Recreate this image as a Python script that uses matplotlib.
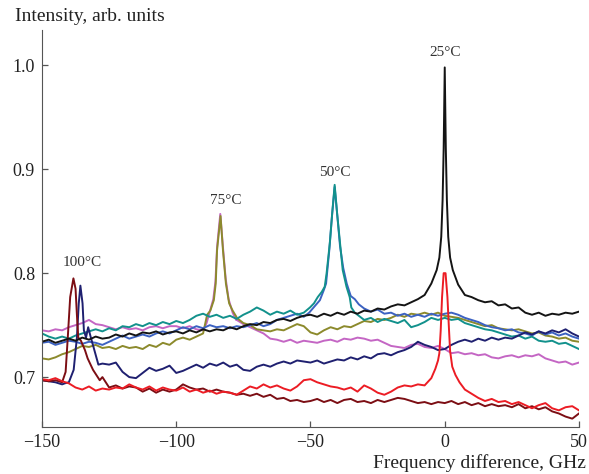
import numpy as np
import matplotlib.pyplot as plt

# frequency grid for the baselines, GHz (step 2.5)
freq = np.arange(-150, 50.1, 2.5)

# 25 C pair: black and red
black_base = [0.734, 0.736, 0.733, 0.735, 0.737, 0.735, 0.738, 0.736, 0.739, 0.737,
              0.738, 0.741, 0.739, 0.742, 0.740, 0.743, 0.742, 0.744, 0.741, 0.743,
              0.744, 0.742, 0.745, 0.743, 0.746, 0.744, 0.746, 0.745, 0.748, 0.746,
              0.749, 0.751, 0.750, 0.753, 0.752, 0.755, 0.756, 0.754, 0.757, 0.759,
              0.760, 0.758, 0.761, 0.759, 0.762, 0.760, 0.763, 0.761, 0.764, 0.763,
              0.766, 0.765, 0.768, 0.770, 0.769, 0.772, 0.775, 0.779, 0.785, 0.800,
              0.998, 0.800, 0.787, 0.779, 0.777, 0.774, 0.772, 0.773, 0.769, 0.770,
              0.766, 0.767, 0.762, 0.760, 0.762, 0.759, 0.761, 0.760, 0.762, 0.761,
              0.763]
black_peak_x = [-5, -3, -2, -1.3, -0.8, -0.4, 0, 0.4, 0.8, 1.3, 2, 3, 5]
black_peak_y = [0.790, 0.803, 0.815, 0.835, 0.870, 0.920, 0.998, 0.920, 0.870, 0.835, 0.815, 0.803, 0.789]

red_base = [0.698, 0.697, 0.699, 0.696, 0.694, 0.690, 0.688, 0.691, 0.687, 0.689,
            0.688, 0.690, 0.689, 0.693, 0.690, 0.688, 0.691, 0.687, 0.690, 0.688,
            0.687, 0.690, 0.686, 0.688, 0.685, 0.687, 0.684, 0.686, 0.685, 0.683,
            0.687, 0.691, 0.689, 0.693, 0.690, 0.692, 0.689, 0.687, 0.691, 0.697,
            0.698, 0.695, 0.693, 0.691, 0.690, 0.688, 0.690, 0.686, 0.692, 0.689,
            0.685, 0.683, 0.686, 0.690, 0.692, 0.691, 0.693, 0.692, 0.699, 0.715,
            0.800, 0.720, 0.698, 0.688, 0.684, 0.680, 0.677, 0.679, 0.676, 0.677,
            0.674, 0.676, 0.673, 0.670, 0.673, 0.675, 0.670, 0.668, 0.671, 0.672,
            0.668]
red_peak_x = [-5, -3.5, -2.5, -2, -1.5, -1, -0.4, 0.3, 1, 1.6, 2, 2.8, 4, 5.5]
red_peak_y = [0.699, 0.708, 0.716, 0.723, 0.745, 0.777, 0.800, 0.800, 0.777, 0.745, 0.725, 0.710, 0.702, 0.695]

# 50 C pair: teal and blue
teal_base = [0.742, 0.739, 0.737, 0.739, 0.737, 0.740, 0.742, 0.744, 0.746, 0.744,
             0.747, 0.745, 0.749, 0.748, 0.751, 0.749, 0.752, 0.750, 0.753, 0.751,
             0.754, 0.752, 0.755, 0.759, 0.761, 0.758, 0.760, 0.757, 0.759, 0.756,
             0.760, 0.763, 0.767, 0.764, 0.760, 0.763, 0.761, 0.764, 0.760, 0.762,
             0.767, 0.772, 0.782, 0.830, 0.800, 0.775, 0.762, 0.760, 0.755, 0.757,
             0.753, 0.756, 0.754, 0.752, 0.755, 0.748, 0.750, 0.753, 0.757, 0.755,
             0.757, 0.755, 0.756, 0.752, 0.750, 0.748, 0.746, 0.745, 0.743, 0.741,
             0.739, 0.740, 0.737, 0.739, 0.735, 0.734, 0.735, 0.732, 0.733, 0.730,
             0.727]
teal_peak_x = [-50.2, -48.7, -47.3, -45.8, -44.7, -44, -42.8, -41.9, -41, -40.1, -39, -38, -36.6, -35.4, -34.8, -33.5]
teal_peak_y = [0.767, 0.771, 0.777, 0.782, 0.787, 0.800, 0.829, 0.858, 0.885, 0.858, 0.829, 0.803, 0.787, 0.777, 0.767, 0.762]

blue_base = [0.733, 0.734, 0.731, 0.733, 0.735, 0.734, 0.732, 0.734, 0.733, 0.731,
             0.734, 0.737, 0.740, 0.737, 0.739, 0.741, 0.739, 0.742, 0.744, 0.742,
             0.745, 0.748, 0.746, 0.749, 0.747, 0.750, 0.748, 0.749, 0.747, 0.749,
             0.748, 0.750, 0.752, 0.749, 0.751, 0.755, 0.757, 0.759, 0.761, 0.758,
             0.762, 0.770, 0.784, 0.840, 0.820, 0.785, 0.775, 0.770, 0.766, 0.763,
             0.765, 0.761, 0.762, 0.759, 0.761, 0.758, 0.760, 0.758, 0.761, 0.759,
             0.761, 0.762, 0.760, 0.757, 0.755, 0.753, 0.750, 0.748, 0.747, 0.745,
             0.746, 0.743, 0.742, 0.740, 0.744, 0.741, 0.743, 0.740, 0.742, 0.739,
             0.737]
blue_peak_x = [-50.5, -48.5, -46.5, -45, -44.2, -43, -42, -41, -40, -39, -37.8, -36.5, -35, -33.5, -32]
blue_peak_y = [0.762, 0.768, 0.774, 0.784, 0.790, 0.822, 0.855, 0.883, 0.855, 0.826, 0.805, 0.790, 0.778, 0.775, 0.770]

# 75 C pair: olive and magenta
olive_base = [0.718, 0.717, 0.719, 0.722, 0.724, 0.727, 0.730, 0.729, 0.731, 0.728,
              0.729, 0.727, 0.730, 0.728, 0.729, 0.727, 0.731, 0.729, 0.733, 0.731,
              0.736, 0.738, 0.736, 0.739, 0.742, 0.770, 0.840, 0.800, 0.765, 0.757,
              0.752, 0.750, 0.746, 0.745, 0.744, 0.746, 0.745, 0.748, 0.751, 0.749,
              0.743, 0.741, 0.745, 0.748, 0.746, 0.749, 0.748, 0.751, 0.754, 0.753,
              0.756, 0.755, 0.757, 0.760, 0.758, 0.761, 0.760, 0.762, 0.760, 0.762,
              0.759, 0.758, 0.757, 0.755, 0.753, 0.751, 0.749, 0.750, 0.747, 0.746,
              0.745, 0.746, 0.744, 0.742, 0.743, 0.740, 0.739, 0.737, 0.738, 0.735,
              0.734]
olive_peak_x = [-88.5, -87.3, -86, -85.3, -84.8, -83.5, -82.6, -81.5, -80.3, -79, -77.6]
olive_peak_y = [0.760, 0.764, 0.774, 0.790, 0.822, 0.855, 0.822, 0.790, 0.771, 0.764, 0.758]

magenta_base = [0.745, 0.744, 0.746, 0.745, 0.748, 0.750, 0.752, 0.755, 0.751, 0.750,
                0.748, 0.746, 0.748, 0.746, 0.747, 0.745, 0.748, 0.749, 0.747, 0.749,
                0.749, 0.747, 0.749, 0.746, 0.745, 0.765, 0.840, 0.800, 0.762, 0.755,
                0.751, 0.748, 0.745, 0.742, 0.737, 0.736, 0.734, 0.736, 0.733, 0.735,
                0.734, 0.733, 0.735, 0.736, 0.734, 0.737, 0.736, 0.738, 0.737, 0.735,
                0.736, 0.733, 0.730, 0.729, 0.728, 0.731, 0.732, 0.729, 0.728, 0.730,
                0.727, 0.723, 0.724, 0.722, 0.723, 0.721, 0.722, 0.719, 0.718, 0.720,
                0.721, 0.719, 0.721, 0.720, 0.722, 0.718, 0.716, 0.714, 0.715, 0.712,
                0.714]
magenta_peak_x = [-88.7, -87.5, -86.2, -85.4, -84.8, -83.6, -82.6, -81.6, -80.5, -79, -77.7]
magenta_peak_y = [0.752, 0.763, 0.775, 0.792, 0.825, 0.857, 0.825, 0.795, 0.775, 0.762, 0.755]

# 100 C pair: maroon and navy
maroon_base = [0.697, 0.696, 0.697, 0.695, 0.720, 0.790, 0.730, 0.715, 0.705, 0.700,
               0.690, 0.692, 0.689, 0.691, 0.690, 0.686, 0.689, 0.685, 0.688, 0.686,
               0.688, 0.693, 0.690, 0.688, 0.689, 0.686, 0.688, 0.686, 0.685, 0.683,
               0.684, 0.682, 0.684, 0.681, 0.683, 0.679, 0.680, 0.677, 0.678, 0.676,
               0.677, 0.679, 0.676, 0.678, 0.675, 0.678, 0.679, 0.676, 0.677, 0.675,
               0.678, 0.676, 0.678, 0.680, 0.679, 0.677, 0.675, 0.676, 0.674, 0.676,
               0.675, 0.677, 0.674, 0.676, 0.673, 0.675, 0.672, 0.674, 0.672, 0.673,
               0.671, 0.674, 0.670, 0.672, 0.669, 0.671, 0.667, 0.665, 0.662, 0.660,
               0.665]
maroon_peak_x = [-142.5, -141.2, -140.4, -139.5, -138.3, -137.5, -137, -136.5, -135.5, -134, -133, -131, -130, -128.5]
maroon_peak_y = [0.695, 0.705, 0.738, 0.777, 0.795, 0.785, 0.760, 0.738, 0.735, 0.726, 0.718, 0.707, 0.703, 0.697]

navy_base = [0.697, 0.696, 0.695, 0.693, 0.695, 0.720, 0.780, 0.745, 0.726, 0.713,
             0.712, 0.714, 0.705, 0.700, 0.699, 0.704, 0.709, 0.706, 0.708, 0.711,
             0.704, 0.706, 0.709, 0.712, 0.709, 0.713, 0.711, 0.714, 0.710, 0.712,
             0.707, 0.706, 0.710, 0.712, 0.710, 0.713, 0.715, 0.713, 0.716, 0.715,
             0.714, 0.716, 0.713, 0.715, 0.717, 0.716, 0.719, 0.717, 0.720, 0.718,
             0.722, 0.723, 0.721, 0.724, 0.726, 0.729, 0.734, 0.731, 0.729, 0.726,
             0.727, 0.731, 0.734, 0.736, 0.734, 0.737, 0.735, 0.738, 0.736, 0.738,
             0.737, 0.740, 0.743, 0.741, 0.744, 0.742, 0.745, 0.743, 0.746, 0.742,
             0.739]
navy_peak_x = [-141.5, -140, -138.2, -137, -136.3, -135.7, -134.9, -134.4, -133.6, -132.8, -131.8, -130.5, -129]
navy_peak_y = [0.694, 0.695, 0.707, 0.738, 0.771, 0.788, 0.771, 0.745, 0.738, 0.748, 0.738, 0.726, 0.712]

labels = ["25°C", "50°C", "75°C", "100°C"]
label_x = [0, -41, -81.5, -135]
label_y = [1.0125, 0.897, 0.870, 0.8105]


def merge(base, px, py):
    # baseline points outside the peak window plus the finer peak points
    base = np.array(base)
    keep = (freq < min(px)) | (freq > max(px))
    x = np.concatenate([freq[keep], px])
    y = np.concatenate([base[keep], py])
    order = np.argsort(x)
    return x[order], y[order]


curves = [
    (magenta_base, magenta_peak_x, magenta_peak_y, "#c466c4"),
    (olive_base, olive_peak_x, olive_peak_y, "#8c8a2c"),
    (blue_base, blue_peak_x, blue_peak_y, "#3c62c2"),
    (teal_base, teal_peak_x, teal_peak_y, "#12918c"),
    (navy_base, navy_peak_x, navy_peak_y, "#1f2070"),
    (maroon_base, maroon_peak_x, maroon_peak_y, "#7c0e14"),
    (black_base, black_peak_x, black_peak_y, "#141414"),
    (red_base, red_peak_x, red_peak_y, "#ec1c24"),
]

plt.rcParams['font.family'] = ['Liberation Serif', 'DejaVu Serif']

fig = plt.figure(figsize=(5.89, 4.74), dpi=100)
ax = fig.add_axes([0.0713, 0.0992, 0.9117, 0.8375])

for base, px, py, color in curves:
    x, y = merge(base, px, py)
    ax.plot(x, y, color=color, lw=1.4)

for t, tx, ty in zip(labels, label_x, label_y):
    ax.text(tx, ty, t, ha="center", va="center", fontsize=11, color="#333333")

ax.set_xlim(-150, 50)
ax.set_ylim(0.652, 1.034)
ax.set_xticks([-150, -100, -50, 0, 50])
ax.set_yticks([0.7, 0.8, 0.9, 1.0])
ax.set_yticklabels(["0.7", "0.8", "0.9", "1.0"])
ax.tick_params(direction="in", length=4, width=0.9, colors="#555555",
               labelcolor="#222222", labelsize=13, pad=5)
ax.spines['top'].set_visible(False)
ax.spines['right'].set_visible(False)
ax.spines['left'].set_color("#555555")
ax.spines['bottom'].set_color("#555555")

fig.text(0.025, 0.966, "Intensity, arb. units", fontsize=14, ha="left", va="center", color="#222222")
fig.text(0.995, 0.023, "Frequency difference, GHz", fontsize=14, ha="right", va="center", color="#222222")

fig.savefig("out.png", dpi=100)
